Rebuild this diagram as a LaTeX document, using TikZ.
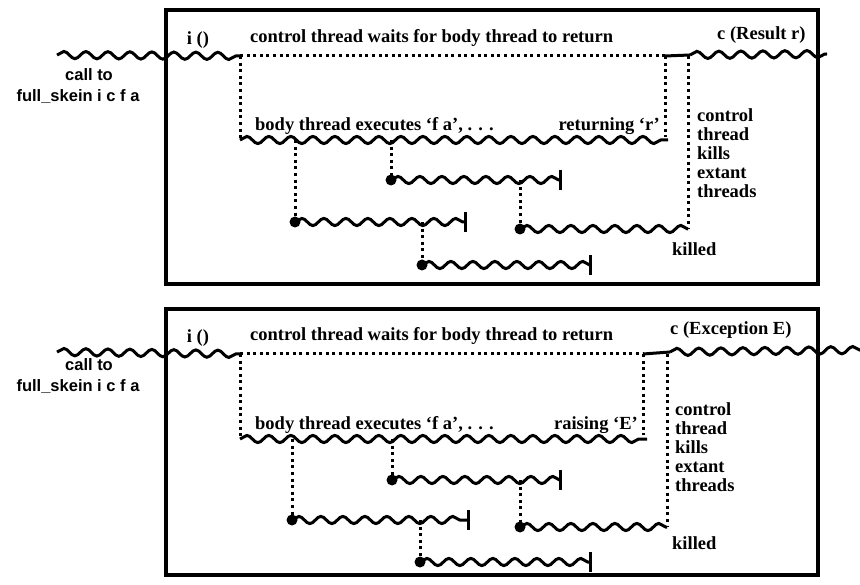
\documentclass[tikz,border=0pt]{standalone}
\usepackage{fontspec}
\setmainfont{Liberation Serif}
\newfontfamily\labsans{Liberation Sans}
\usetikzlibrary{decorations.pathmorphing}
\begin{document}
\begin{tikzpicture}[x=1pt,y=-1pt,
  wave/.style={decorate, decoration={snake, segment length=22pt, amplitude=3.6pt}, line width=3pt},
  dotline/.style={line width=3pt, dash pattern=on 3pt off 3.6pt},
  solidline/.style={line width=3pt},
  frame/.style={draw, line width=3.4pt, inner sep=0pt},
  lbl/.style={inner sep=0pt, font=\fontsize{18.5}{19}\selectfont\bfseries},
  slbl/.style={inner sep=0pt, font=\labsans\fontsize{16.5}{17}\selectfont\bfseries},
  spawndot/.style={fill, circle, inner sep=0pt, minimum size=11pt},
  endbar/.style={line width=3pt}]
\useasboundingbox (0,0) rectangle (860,585);

% ================= top panel =================
\node[frame, minimum width=652pt, minimum height=274pt] (a-box) at (492,147) {};
\coordinate (a-in) at (57,55);
\coordinate (a-fork) at (240,56);
\coordinate (a-ret) at (665,56);
\coordinate (a-res) at (690,55);
\coordinate (a-out) at (827,54);
\coordinate (a-bodyS) at (240,140);
\coordinate (a-bodyE) at (668,140);
\coordinate (a-retB) at (665,137);
\coordinate (a-kill) at (688,56);
\coordinate (a-jB) at (391,140); \coordinate (a-B) at (391,180); \coordinate (a-Be) at (560,180);
\coordinate (a-jA) at (295,140); \coordinate (a-A) at (295,222); \coordinate (a-Ae) at (465,222);
\coordinate (a-jC) at (422,222); \coordinate (a-C) at (422,265); \coordinate (a-Ce) at (590,265);
\coordinate (a-jD) at (520,180); \coordinate (a-D) at (520,229); \coordinate (a-De) at (688,229);

\draw[wave] (a-in) -- (a-fork);
\draw[dotline] (a-fork) -- (a-ret);
\draw[solidline] (a-ret) -- (a-res);
\draw[wave] (a-res) -- (a-out);
\draw[dotline] (a-fork) -- (a-bodyS);
\draw[wave] (a-bodyS) -- (a-bodyE);
\draw[dotline] (a-ret) -- (a-retB);
\draw[dotline] (a-kill) -- (a-De);
\draw[dotline] (a-jB) -- (a-B);
\draw[wave] (a-B) -- (a-Be);
\draw[endbar] ([yshift=10pt]a-Be) -- ([yshift=-10pt]a-Be);
\draw[dotline] (a-jA) -- (a-A);
\draw[wave] (a-A) -- (a-Ae);
\draw[endbar] ([yshift=10pt]a-Ae) -- ([yshift=-10pt]a-Ae);
\draw[dotline] (a-jC) -- (a-C);
\draw[wave] (a-C) -- (a-Ce);
\draw[endbar] ([yshift=10pt]a-Ce) -- ([yshift=-10pt]a-Ce);
\draw[dotline] (a-jD) -- (a-D);
\draw[wave] (a-D) -- (a-De);
\node[spawndot] (a-Bdot) at (a-B) {};
\node[spawndot] (a-Adot) at (a-A) {};
\node[spawndot] (a-Cdot) at (a-C) {};
\node[spawndot] (a-Ddot) at (a-D) {};

\node[lbl] (a-i) at (198,40) {i ()};
\node[lbl, anchor=west] (a-wait) at (250,38) {control thread waits for body thread to return};
\node[lbl, anchor=west] (a-c) at (717,35) {c (Result r)};
\node[lbl, anchor=west] (a-body) at (255,126) {body thread executes ‘f a’, . . .};
\node[lbl, anchor=east] (a-rtn) at (660,126) {returning ‘r’};
\node[lbl, anchor=north west, align=left] (a-ctl) at (697,108) {control\\thread\\kills\\extant\\threads};
\node[lbl, anchor=west] (a-killed) at (672,249) {killed};
\node[slbl] (a-call) at (89,75) {call to};
\node[slbl] (a-fs) at (78,97) {full\_skein i c f a};

% ================= bottom panel =================
\node[frame, minimum width=652pt, minimum height=266pt] (b-box) at (492,442) {};
\coordinate (b-in) at (57,352);
\coordinate (b-fork) at (240,354);
\coordinate (b-ret) at (643,354);
\coordinate (b-res) at (670,352);
\coordinate (b-out) at (862,350);
\coordinate (b-bodyS) at (240,439);
\coordinate (b-bodyE) at (647,439);
\coordinate (b-retB) at (643,435);
\coordinate (b-kill) at (667,354);
\coordinate (b-jB) at (392,439); \coordinate (b-B) at (392,480); \coordinate (b-Be) at (560,480);
\coordinate (b-jA) at (292,439); \coordinate (b-A) at (292,520); \coordinate (b-Ae) at (468,520);
\coordinate (b-jC) at (420,520); \coordinate (b-C) at (420,562); \coordinate (b-Ce) at (590,562);
\coordinate (b-jD) at (520,480); \coordinate (b-D) at (520,527); \coordinate (b-De) at (667,527);

\draw[wave] (b-in) -- (b-fork);
\draw[dotline] (b-fork) -- (b-ret);
\draw[solidline] (b-ret) -- (b-res);
\draw[wave] (b-res) -- (b-out);
\draw[dotline] (b-fork) -- (b-bodyS);
\draw[wave] (b-bodyS) -- (b-bodyE);
\draw[dotline] (b-ret) -- (b-retB);
\draw[dotline] (b-kill) -- (b-De);
\draw[dotline] (b-jB) -- (b-B);
\draw[wave] (b-B) -- (b-Be);
\draw[endbar] ([yshift=10pt]b-Be) -- ([yshift=-10pt]b-Be);
\draw[dotline] (b-jA) -- (b-A);
\draw[wave] (b-A) -- (b-Ae);
\draw[endbar] ([yshift=10pt]b-Ae) -- ([yshift=-10pt]b-Ae);
\draw[dotline] (b-jC) -- (b-C);
\draw[wave] (b-C) -- (b-Ce);
\draw[endbar] ([yshift=10pt]b-Ce) -- ([yshift=-10pt]b-Ce);
\draw[dotline] (b-jD) -- (b-D);
\draw[wave] (b-D) -- (b-De);
\node[spawndot] (b-Bdot) at (b-B) {};
\node[spawndot] (b-Adot) at (b-A) {};
\node[spawndot] (b-Cdot) at (b-C) {};
\node[spawndot] (b-Ddot) at (b-D) {};

\node[lbl] (b-i) at (198,338) {i ()};
\node[lbl, anchor=west] (b-wait) at (250,336) {control thread waits for body thread to return};
\node[lbl, anchor=west] (b-c) at (670,330) {c (Exception E)};
\node[lbl, anchor=west] (b-body) at (255,425) {body thread executes ‘f a’, . . .};
\node[lbl, anchor=east] (b-rtn) at (638,425) {raising ‘E’};
\node[lbl, anchor=north west, align=left] (b-ctl) at (675,402) {control\\thread\\kills\\extant\\threads};
\node[lbl, anchor=west] (b-killed) at (672,543) {killed};
\node[slbl] (b-call) at (89,365) {call to};
\node[slbl] (b-fs) at (78,387) {full\_skein i c f a};
\end{tikzpicture}
\end{document}
